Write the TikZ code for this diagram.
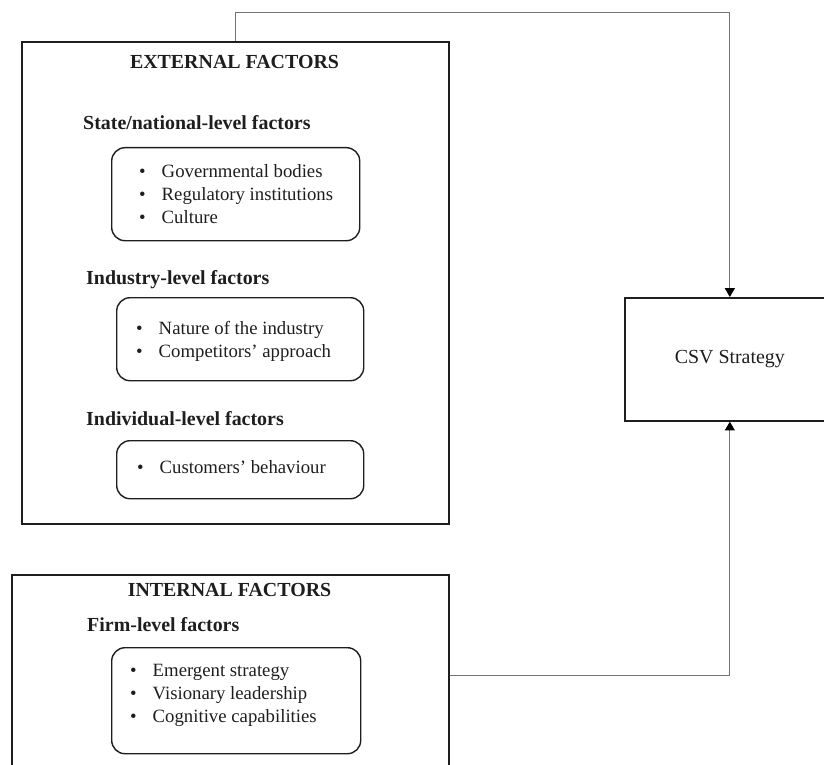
\documentclass[tikz,border=0pt]{standalone}
\usepackage{fontspec}
\setmainfont{Liberation Serif}
\usetikzlibrary{positioning,arrows.meta}
\definecolor{colLine}{RGB}{115,115,115}
\definecolor{colText}{RGB}{30,30,30}
\newcommand{\bul}{\textbullet\hspace{0.85em}}

\begin{document}
\begin{tikzpicture}[
    x=0.03cm, y=-0.03cm,
    every node/.style={font=\fontsize{16}{19.5}\selectfont, text=colText},
    frame/.style={draw=colText, line width=1.4pt, anchor=north west, inner sep=0pt},
    listbox/.style={draw=colText, line width=1.2pt, rounded corners=0.4cm, anchor=north west, inner sep=0pt},
    items/.style={anchor=west, align=left, inner sep=0pt},
    head/.style={font=\fontsize{17}{20}\selectfont\bfseries, inner sep=0pt},
    sub/.style={head, anchor=west},
    conn/.style={draw=colLine, line width=0.8pt},
    tip/.style={-{Triangle[length=7.5pt,width=8.5pt,color=black]}}
]
    \useasboundingbox (0,0) rectangle (824,764);
    \clip (0,0) rectangle (824,764);

    % external factors
    \node[frame, minimum width=12.81cm, minimum height=14.46cm] (ext) at (21,41) {};
    \node[head] (exthead) at (234.5,62) {EXTERNAL FACTORS};

    \node[sub] (state) at (83,123) {State/national-level factors};
    \node[listbox, minimum width=7.44cm, minimum height=2.79cm] (b1) at (111,147) {};
    \node[items] (l1) at (139,194) {\bul Governmental bodies\\ \bul Regulatory institutions\\ \bul Culture};

    \node[sub] (industry) at (86,280) {Industry-level factors};
    \node[listbox, minimum width=7.41cm, minimum height=2.49cm] (b2) at (116,297) {};
    \node[items] (l2) at (136,341.5) {\bul Nature of the industry\\ \bul Competitors’ approach};

    \node[sub] (indiv) at (86,419) {Individual-level factors};
    \node[listbox, minimum width=7.41cm, minimum height=1.74cm] (b3) at (116,440) {};
    \node[items] (l3) at (137,467) {\bul Customers’ behaviour};

    % internal factors
    \node[frame, minimum width=13.11cm, minimum height=6.06cm] (int) at (11,574) {};
    \node[head] (inthead) at (229.5,590) {INTERNAL FACTORS};

    \node[sub] (firm) at (87,625) {Firm-level factors};
    \node[listbox, minimum width=7.47cm, minimum height=3.18cm] (b4) at (111,647) {};
    \node[items] (l4) at (130,695.5) {\bul Emergent strategy\\ \bul Visionary leadership\\ \bul Cognitive capabilities};

    % outcome
    \node[frame, minimum width=6.3cm, minimum height=3.69cm, font=\fontsize{17}{20}\selectfont] (csv) at (624,297) {CSV Strategy};

    \draw[conn, tip] (ext.north) -- ++(0,-29) -| (csv.north);
    \draw[conn, tip] (int.east) -| (csv.south);
\end{tikzpicture}
\end{document}
